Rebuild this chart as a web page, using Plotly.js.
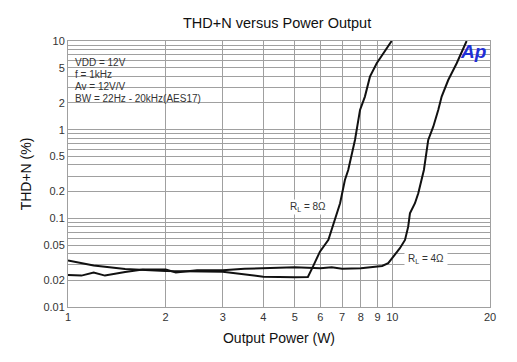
<!DOCTYPE html>
<html>
<head>
<meta charset="utf-8">
<script src="https://cdn.plot.ly/plotly-3.0.1.min.js"></script>
<style>html,body{margin:0;padding:0;background:#fff;}#chart{width:517px;height:362px;}</style>
</head>
<body>
<div id="chart"></div>
<script>
// RL = 8 ohm
const x8 = [1, 1.2, 1.5, 2, 3, 4, 5, 5.49, 5.69, 5.98, 6.35, 6.5, 6.9, 7.14, 7.31, 7.67, 7.95, 8.23, 8.53, 8.95, 9.95];
const y8 = [0.0334, 0.0293, 0.0269, 0.0255, 0.025, 0.022, 0.0216, 0.0218, 0.0285, 0.0421, 0.0571, 0.074, 0.148, 0.271, 0.351, 0.765, 1.67, 2.36, 3.96, 5.61, 10];
// RL = 4 ohm
const x4 = [1, 1.1, 1.2, 1.3, 1.5, 1.7, 2, 2.15, 2.5, 3, 3.5, 4, 5, 6, 6.5, 7, 8, 9.3, 9.71, 10.07, 10.55, 10.94, 11.19, 11.33, 11.74, 12.02, 12.31, 12.51, 12.9, 13.37, 13.85, 14.19, 14.87, 15.79, 16.94];
const y4 = [0.023, 0.0226, 0.0245, 0.0226, 0.0248, 0.0265, 0.0265, 0.0245, 0.026, 0.026, 0.027, 0.0273, 0.0281, 0.0273, 0.028, 0.027, 0.0273, 0.029, 0.0312, 0.037, 0.046, 0.0571, 0.0806, 0.114, 0.148, 0.192, 0.271, 0.351, 0.765, 1.08, 1.67, 2.36, 3.63, 5.61, 10];

const xTicks = [1, 2, 3, 4, 5, 6, 7, 8, 9, 10, 20];
const yTicks = [0.01, 0.02, 0.05, 0.1, 0.2, 0.5, 1, 2, 5, 10];
const yTickText = ['0.01', '0.02', '0.05', '0.1', '0.2', '0.5', '1', '2', '5', '10'];
const yMinor = [0.03, 0.04, 0.06, 0.07, 0.08, 0.09, 0.3, 0.4, 0.6, 0.7, 0.8, 0.9, 3, 4, 6, 7, 8, 9];
const infoLines = ['VDD = 12V', 'f = 1kHz', 'Av = 12V/V', 'BW = 22Hz - 20kHz(AES17)'];

const gridColor = '#a0a0a0';
const font = 'Arial, "Liberation Sans", sans-serif';

const traces = [
  {x: x8, y: y8, type: 'scatter', mode: 'lines', line: {color: '#111', width: 2}, hoverinfo: 'none'},
  {x: x4, y: y4, type: 'scatter', mode: 'lines', line: {color: '#111', width: 2}, hoverinfo: 'none'}
];

const annotations = infoLines.map((t, i) => ({
  text: t, xref: 'paper', yref: 'paper', x: 0.012, y: 1 - (62 + i * 12.3 - 41) / 266,
  xanchor: 'left', yanchor: 'middle', showarrow: false,
  font: {family: font, size: 10, color: '#333'}
}));
annotations.push(
  {text: 'R<sub>L</sub> = 8Ω', x: Math.log10(5.49), y: Math.log10(0.134), xref: 'x', yref: 'y', showarrow: false,
   bgcolor: '#fff', borderpad: 1, font: {family: font, size: 10, color: '#333'}},
  {text: 'R<sub>L</sub> = 4Ω', x: Math.log10(12.69), y: Math.log10(0.0349), xref: 'x', yref: 'y', showarrow: false,
   bgcolor: '#fff', borderpad: 3, font: {family: font, size: 10, color: '#333'}},
  {text: '<b><i>Ap</i></b>', xref: 'paper', yref: 'paper', x: 0.995, y: 0.962, xanchor: 'right', yanchor: 'middle',
   showarrow: false, font: {family: font, size: 19, color: '#1f2fd6'}}
);

const layout = {
  width: 517, height: 362,
  margin: {l: 68, r: 27, t: 41, b: 55},
  paper_bgcolor: '#fff', plot_bgcolor: '#fff',
  showlegend: false,
  title: {text: 'THD+N versus Power Output', x: 0.536, xanchor: 'center', y: 0.938, yanchor: 'middle',
          font: {family: font, size: 14.5, color: '#111'}},
  xaxis: {
    type: 'log', range: [0, Math.log10(20)],
    tickmode: 'array', tickvals: xTicks, ticktext: xTicks.map(String),
    showgrid: true, gridcolor: gridColor, gridwidth: 1,
    showline: true, linecolor: gridColor, linewidth: 1, mirror: true,
    ticks: '', zeroline: false,
    tickfont: {family: font, size: 11, color: '#333'},
    title: {text: 'Output Power (W)', font: {family: font, size: 14, color: '#111'}, standoff: 10}
  },
  yaxis: {
    type: 'log', range: [-2, 1],
    tickmode: 'array', tickvals: yTicks, ticktext: yTickText,
    showgrid: true, gridcolor: gridColor, gridwidth: 1,
    minor: {tickmode: 'array', tickvals: yMinor, showgrid: true, gridcolor: gridColor, gridwidth: 1, ticks: ''},
    showline: true, linecolor: gridColor, linewidth: 1, mirror: true,
    ticks: '', zeroline: false,
    tickfont: {family: font, size: 11, color: '#333'},
    title: {text: 'THD+N (%)', font: {family: font, size: 14, color: '#111'}, standoff: 8}
  },
  shapes: [
    {type: 'rect', xref: 'paper', yref: 'paper', x0: 0.002, x1: 0.325, y0: 0.733, y1: 0.998,
     fillcolor: '#fff', line: {width: 0}, layer: 'between'}
  ],
  annotations: annotations
};

Plotly.newPlot('chart', traces, layout, {displayModeBar: false, staticPlot: true});
</script>
</body>
</html>
